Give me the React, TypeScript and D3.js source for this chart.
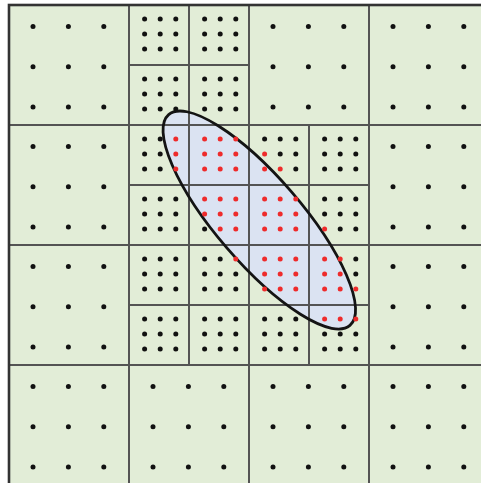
import React from "react";
import * as d3 from "d3";

// Coarse grid: 4 x 4 cells in domain units
const gridCells = 4;

// Coarse cells that are refined into four quarter cells [col, row]
const refinedCells: [number, number][] = [
  [1, 0],
  [1, 1],
  [2, 1],
  [1, 2],
  [2, 2],
];

// Quadrature points inside the ellipse for each refined quarter,
// keyed by "halfCol,halfRow"; 3 rows of 3 flags, top to bottom
const insideMasks: Record<string, string[]> = {
  "2,2": ["001", "001", "001"],
  "3,2": ["111", "111", "111"],
  "3,3": ["111", "111", "011"],
  "4,2": ["000", "100", "110"],
  "4,3": ["111", "111", "111"],
  "5,3": ["000", "000", "100"],
  "3,4": ["001", "000", "000"],
  "4,4": ["111", "111", "111"],
  "5,4": ["110", "110", "111"],
  "5,5": ["111", "000", "000"],
};

// Ellipse (domain units): centre, semi-axes, rotation in degrees
const ellipseCenter = [2.0858, 1.7917];
const ellipseAxes = [1.1583, 0.3567];
const ellipseAngle = 49.3;

const W = 481;
const H = 483;

const x = d3.scaleLinear().domain([0, gridCells]).range([9, 489]);
const y = d3.scaleLinear().domain([0, gridCells]).range([5, 485]);

const GREEN = "#e2edd7";
const BLUE = "#dbe3f2";
const LINE = "#545454";
const RED = "#ee2b2b";

type Dot = { cx: number; cy: number; red: boolean };

export default function App() {
  const refinedSet = new Set(refinedCells.map(([c, r]) => `${c},${r}`));
  const dots: Dot[] = [];
  const lines: { x1: number; y1: number; x2: number; y2: number }[] = [];

  const coarseFx = [0.2, 0.495, 0.79];
  const coarseFy = [0.18, 0.515, 0.85];
  const fineFx = [0.26, 0.52, 0.78];
  const fineFy = [0.235, 0.485, 0.735];

  d3.range(gridCells).forEach((c) => {
    d3.range(gridCells).forEach((r) => {
      if (refinedSet.has(`${c},${r}`)) {
        [0, 1].forEach((i) => {
          [0, 1].forEach((j) => {
            const hc = 2 * c + i;
            const hr = 2 * r + j;
            const mask = insideMasks[`${hc},${hr}`];
            fineFy.forEach((fy, ry) => {
              fineFx.forEach((fx, rx) => {
                dots.push({
                  cx: x((hc + fx) / 2),
                  cy: y((hr + fy) / 2),
                  red: !!mask && mask[ry][rx] === "1",
                });
              });
            });
          });
        });
        // quarter split lines
        lines.push({ x1: x(c + 0.5), y1: y(r), x2: x(c + 0.5), y2: y(r + 1) });
        lines.push({ x1: x(c), y1: y(r + 0.5), x2: x(c + 1), y2: y(r + 0.5) });
      } else {
        coarseFy.forEach((fy) => {
          coarseFx.forEach((fx) => {
            dots.push({ cx: x(c + fx), cy: y(r + fy), red: false });
          });
        });
      }
    });
  });

  d3.range(1, gridCells).forEach((k) => {
    lines.push({ x1: x(k), y1: y(0), x2: x(k), y2: y(gridCells) });
    lines.push({ x1: x(0), y1: y(k), x2: x(gridCells), y2: y(k) });
  });

  const ecx = x(ellipseCenter[0]);
  const ecy = y(ellipseCenter[1]);
  const erx = x(ellipseAxes[0]) - x(0);
  const ery = y(ellipseAxes[1]) - y(0);
  const eTransform = `translate(${ecx},${ecy}) rotate(${ellipseAngle})`;

  return (
    <svg
      width={W}
      height={H}
      style={{ position: "absolute", left: 0, top: 0, background: "#fff" }}
    >
      <rect
        x={x(0)}
        y={y(0)}
        width={x(gridCells) - x(0)}
        height={y(gridCells) - y(0)}
        fill={GREEN}
      />
      <ellipse transform={eTransform} rx={erx} ry={ery} fill={BLUE} />
      <g stroke={LINE} strokeWidth={2}>
        {lines.map((l, i) => (
          <line key={i} {...l} />
        ))}
      </g>
      <rect
        x={x(0)}
        y={y(0)}
        width={x(gridCells) - x(0)}
        height={y(gridCells) - y(0)}
        fill="none"
        stroke="#333"
        strokeWidth={2.6}
      />
      <ellipse
        transform={eTransform}
        rx={erx}
        ry={ery}
        fill="none"
        stroke="#141414"
        strokeWidth={2.8}
      />
      <g>
        {dots.map((d, i) => (
          <circle
            key={i}
            cx={d.cx}
            cy={d.cy}
            r={2.5}
            fill={d.red ? RED : "#111"}
          />
        ))}
      </g>
    </svg>
  );
}
